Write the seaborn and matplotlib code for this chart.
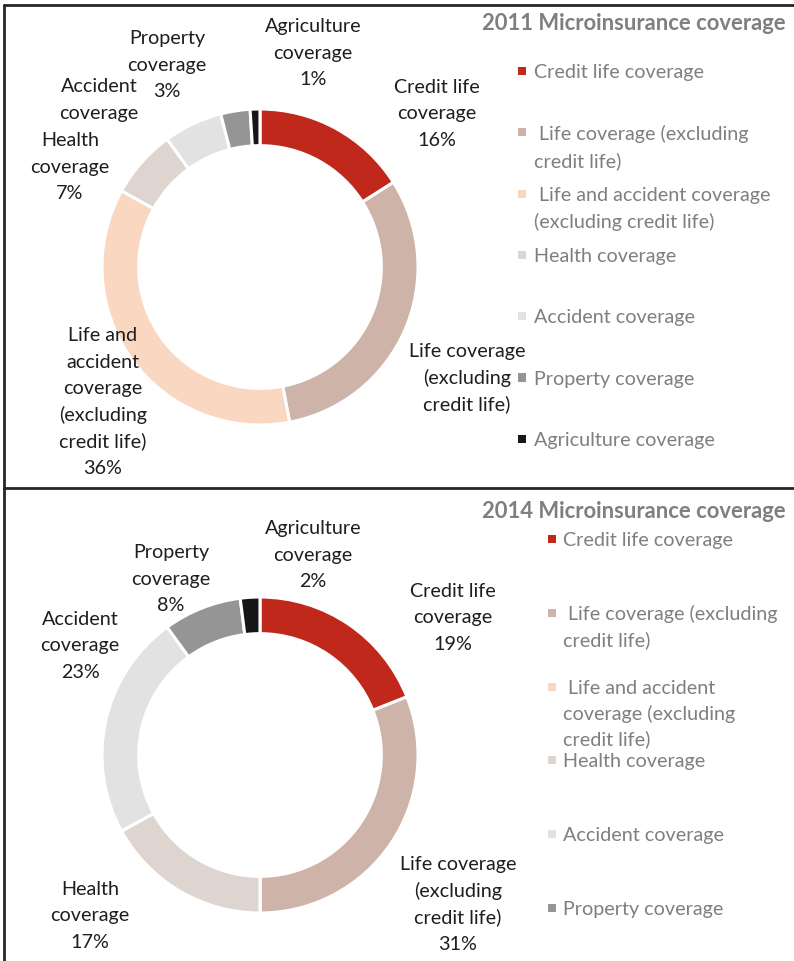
import matplotlib
matplotlib.use("Agg")
import matplotlib.pyplot as plt
from matplotlib.lines import Line2D
from matplotlib.patches import Rectangle
import seaborn as sns

# ---- data -------------------------------------------------------------
categories = [
    "Credit life coverage",
    "Life coverage (excluding credit life)",
    "Life and accident coverage (excluding credit life)",
    "Health coverage",
    "Accident coverage",
    "Property coverage",
    "Agriculture coverage",
]
share_2011 = [16, 31, 36, 7, 6, 3, 1]
share_2014 = [19, 31, 0, 17, 23, 8, 2]

# data-label wording (wrapped as drawn) and whether the percentage is shown
labels_2011 = ["Credit life\ncoverage", "Life coverage\n(excluding\ncredit life)",
               "Life and\naccident\ncoverage\n(excluding\ncredit life)",
               "Health\ncoverage", "Accident\ncoverage", "Property\ncoverage",
               "Agriculture\ncoverage"]
show_pct_2011 = [True, False, True, True, False, True, True]
labels_2014 = ["Credit life\ncoverage", "Life coverage\n(excluding\ncredit life)",
               None, "Health\ncoverage", "Accident\ncoverage", "Property\ncoverage",
               "Agriculture\ncoverage"]
show_pct_2014 = [True, True, False, True, True, True, True]

# legend wording (wrapped as drawn)
legend_2011 = ["Credit life coverage", " Life coverage (excluding\ncredit life)",
               " Life and accident coverage\n(excluding credit life)",
               "Health coverage", "Accident coverage", "Property coverage",
               "Agriculture coverage"]
legend_2014 = ["Credit life coverage", " Life coverage (excluding\ncredit life)",
               " Life and accident\ncoverage (excluding\ncredit life)",
               "Health coverage", "Accident coverage", "Property coverage"]

titles = ["2011 Microinsurance coverage", "2014 Microinsurance coverage"]

colors = ["#C0281C", "#CDB3A8", "#FAD7C0", "#DED5D1", "#E2E2E2", "#959595", "#171717"]

# ---- styling ----------------------------------------------------------
sns.set_theme(style="white")
plt.rcParams["font.family"] = ["Lato", "DejaVu Sans"]

W, H = 794, 961
fig = plt.figure(figsize=(W / 100, H / 100), dpi=100)
fig.patch.set_facecolor("white")


def fx(x):
    return x / W


def fy(y):
    return 1 - y / H


LABEL_FS = 14.2
PITCH = 26.5
TEXT_DARK = "#1E1E1E"
TEXT_GREY = "#7F7F7F"


def block(x, y_first, text, ha, color, pitch=PITCH):
    """Write a multi-line block one line at a time with a fixed line pitch."""
    for k, line in enumerate(text.split("\n")):
        fig.text(fx(x), fy(y_first + k * pitch), line, ha=ha, va="center_baseline",
                 fontsize=LABEL_FS, color=color)


panels = [
    dict(values=share_2011, labels=labels_2011, show=show_pct_2011, legend=legend_2011,
         title=titles[0], cy=267, title_y=22, leg_y0=71, leg_step=61.3, leg_pitch=27,
         leg_mx=522, leg_tx=534,
         lab_pos=[(437, 86), (467, 350), (103, 334), (70, 139), (99, 85),
                  (167, 37), (313, 25)]),
    dict(values=share_2014, labels=labels_2014, show=show_pct_2014, legend=legend_2014,
         title=titles[1], cy=755, title_y=510, leg_y0=539, leg_step=73.8, leg_pitch=25.5,
         leg_mx=552, leg_tx=563,
         lab_pos=[(453, 590), (458, 863), None, (90, 888), (80, 618),
                  (171, 551), (313, 527)]),
]

R = 158
CX = 260
for p in panels:
    ax = fig.add_axes([fx(CX - R), fy(p["cy"] + R), 2 * R / W, 2 * R / H])
    ax.pie(p["values"], colors=colors, startangle=90, counterclock=False,
           radius=1.0,
           wedgeprops=dict(width=0.232, edgecolor="white", linewidth=2.2))
    ax.set_xlim(-1, 1)
    ax.set_ylim(-1, 1)
    ax.set_aspect("equal")
    ax.axis("off")

    # data labels
    for lab, show, val, pos in zip(p["labels"], p["show"], p["values"], p["lab_pos"]):
        if lab is None or pos is None:
            continue
        txt = f"{lab}\n{val}%" if show else lab
        block(pos[0], pos[1], txt, "center", TEXT_DARK)

    # title
    fig.text(fx(786), fy(p["title_y"]), p["title"], ha="right", va="center_baseline",
             fontsize=15.8, fontweight="bold", color=TEXT_GREY)

    # legend
    for i, lab in enumerate(p["legend"]):
        y = p["leg_y0"] + i * p["leg_step"]
        fig.patches.append(Rectangle((fx(p["leg_mx"] - 4), fy(y + 4)), 8 / W, 8 / H,
                                     transform=fig.transFigure, facecolor=colors[i],
                                     edgecolor="none"))
        block(p["leg_tx"], y, lab, "left", TEXT_GREY, pitch=p["leg_pitch"])

# panel frames
frame_kw = dict(color="#262626", linewidth=2.0, transform=fig.transFigure)
fig.lines.append(Line2D([fx(4), fx(W)], [fy(5), fy(5)], **frame_kw))
fig.lines.append(Line2D([fx(4), fx(4)], [fy(5), fy(H)], **frame_kw))
fig.lines.append(Line2D([fx(4), fx(W)], [fy(488), fy(488)], **frame_kw))

fig.savefig("out.png", dpi=100, facecolor="white")
